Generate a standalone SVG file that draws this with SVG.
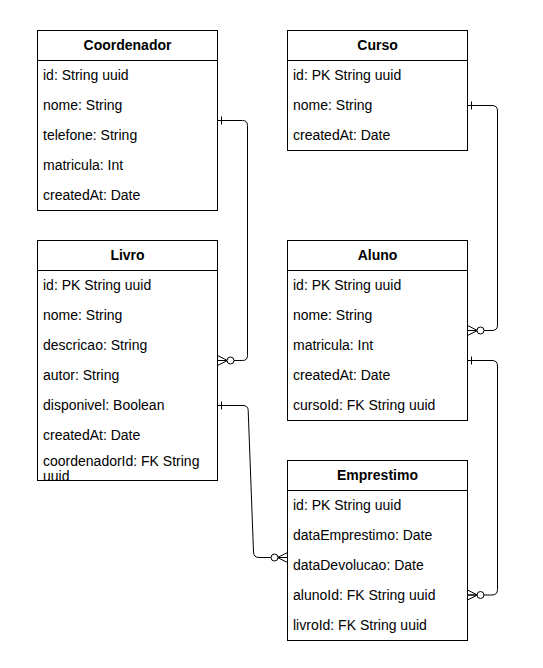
<svg xmlns="http://www.w3.org/2000/svg" xmlns:xlink="http://www.w3.org/1999/xlink" width="543" height="668" viewBox="0 0 543 668">
<style>
.box{fill:#fff;stroke:#000;stroke-width:1}
.div{stroke:#000;stroke-width:1}
.hdr{font-family:"Liberation Sans",Arial,sans-serif;font-size:14px;font-weight:bold;text-anchor:middle;fill:#000}
.fld{font-family:"Liberation Sans",Arial,sans-serif;font-size:14px;fill:#000}
.edge{fill:none;stroke:#000;stroke-width:1}
.mk{fill:none;stroke:#000;stroke-width:1}
</style>
<defs>
<g id="one"><line class="mk" x1="4" y1="-4" x2="4" y2="4"/></g>
<g id="zeroMany">
<line class="mk" x1="0" y1="-5" x2="10" y2="0"/>
<line class="mk" x1="0" y1="5" x2="10" y2="0"/>
<line class="mk" x1="0" y1="0" x2="10" y2="0"/>
<circle cx="13" cy="0" r="3.5" fill="#fff" stroke="#000" stroke-width="1"/>
</g>
<clipPath id="livroClip"><rect x="37" y="240" width="181" height="240"/></clipPath>
</defs>
<rect width="543" height="668" fill="#fff"/>

<g id="coordenador">
<rect class="box" x="37.5" y="30.5" width="180" height="180"/>
<line class="div" x1="37.5" y1="60.5" x2="217.5" y2="60.5"/>
<text class="hdr" x="127.5" y="50">Coordenador</text>
<text class="fld" x="43" y="80">id: String uuid</text>
<text class="fld" x="43" y="110">nome: String</text>
<text class="fld" x="43" y="140">telefone: String</text>
<text class="fld" x="43" y="170">matricula: Int</text>
<text class="fld" x="43" y="200">createdAt: Date</text>
</g>

<g id="curso">
<rect class="box" x="287.5" y="30.5" width="180" height="120"/>
<line class="div" x1="287.5" y1="60.5" x2="467.5" y2="60.5"/>
<text class="hdr" x="377.5" y="50">Curso</text>
<text class="fld" x="293" y="80">id: PK String uuid</text>
<text class="fld" x="293" y="110">nome: String</text>
<text class="fld" x="293" y="140">createdAt: Date</text>
</g>

<g id="livro">
<rect class="box" x="37.5" y="240.5" width="180" height="240"/>
<line class="div" x1="37.5" y1="270.5" x2="217.5" y2="270.5"/>
<text class="hdr" x="127.5" y="260">Livro</text>
<text class="fld" x="43" y="290">id: PK String uuid</text>
<text class="fld" x="43" y="320">nome: String</text>
<text class="fld" x="43" y="350">descricao: String</text>
<text class="fld" x="43" y="380">autor: String</text>
<text class="fld" x="43" y="410">disponivel: Boolean</text>
<text class="fld" x="43" y="440">createdAt: Date</text>
<g clip-path="url(#livroClip)">
<text class="fld" x="43" y="466">coordenadorId: FK String</text>
<text class="fld" x="43" y="481">uuid</text>
</g>
</g>

<g id="aluno">
<rect class="box" x="287.5" y="240.5" width="180" height="180"/>
<line class="div" x1="287.5" y1="270.5" x2="467.5" y2="270.5"/>
<text class="hdr" x="377.5" y="260">Aluno</text>
<text class="fld" x="293" y="290">id: PK String uuid</text>
<text class="fld" x="293" y="320">nome: String</text>
<text class="fld" x="293" y="350">matricula: Int</text>
<text class="fld" x="293" y="380">createdAt: Date</text>
<text class="fld" x="293" y="410">cursoId: FK String uuid</text>
</g>

<g id="emprestimo">
<rect class="box" x="287.5" y="460.5" width="180" height="180"/>
<line class="div" x1="287.5" y1="490.5" x2="467.5" y2="490.5"/>
<text class="hdr" x="377.5" y="480">Emprestimo</text>
<text class="fld" x="293" y="510">id: PK String uuid</text>
<text class="fld" x="293" y="540">dataEmprestimo: Date</text>
<text class="fld" x="293" y="570">dataDevolucao: Date</text>
<text class="fld" x="293" y="600">alunoId: FK String uuid</text>
<text class="fld" x="293" y="630">livroId: FK String uuid</text>
</g>

<g id="connectors">
<path class="edge" d="M217.5,120.5 H242.5 Q247.5,120.5 247.5,125.5 V355.5 Q247.5,360.5 242.5,360.5 H217.5"/>
<use xlink:href="#one" transform="translate(217.5,120.5)"/>
<use xlink:href="#zeroMany" transform="translate(217.5,360.5)"/>

<path class="edge" d="M217.5,405.5 H243 Q248,405.5 248.2,410.5 L253.5,552 Q253.8,557.5 259,557.5 H287.5"/>
<use xlink:href="#one" transform="translate(217.5,405.5)"/>
<use xlink:href="#zeroMany" transform="translate(287.5,557.5) scale(-1,1)"/>

<path class="edge" d="M467.5,105.5 H492 Q497.5,105.5 497.5,111 V325 Q497.5,330.5 492,330.5 H467.5"/>
<use xlink:href="#one" transform="translate(467.5,105.5)"/>
<use xlink:href="#zeroMany" transform="translate(467.5,330.5)"/>

<path class="edge" d="M467.5,360.5 H492 Q497.5,360.5 497.5,366 V589.5 Q497.5,595 492,595 H467.5"/>
<use xlink:href="#one" transform="translate(467.5,360.5)"/>
<use xlink:href="#zeroMany" transform="translate(467.5,595)"/>
</g>
</svg>
